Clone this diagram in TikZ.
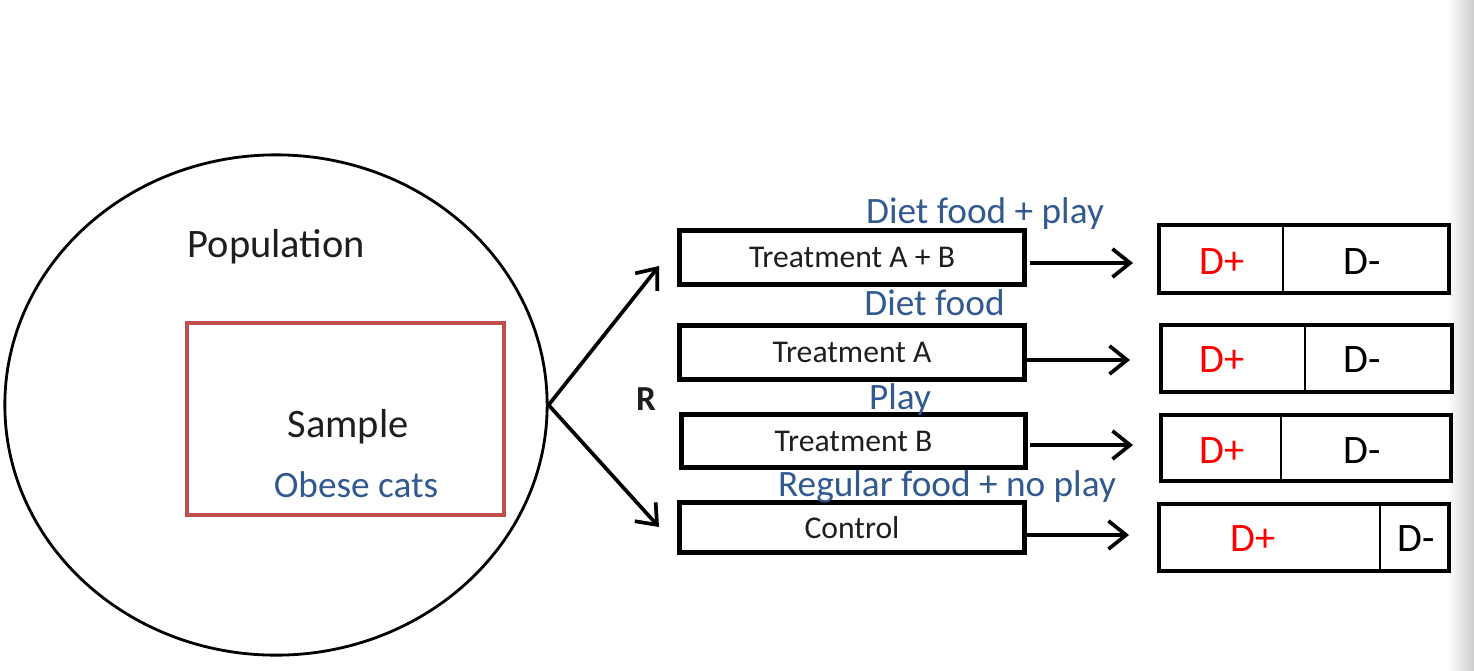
\documentclass[tikz,border=0pt]{standalone}
\usepackage{fontspec}
\setmainfont{Carlito}
\usetikzlibrary{shapes.geometric,arrows.meta}
\definecolor{lblblue}{RGB}{50,90,145}
\definecolor{samplered}{RGB}{192,80,77}
\definecolor{dred}{RGB}{255,0,0}
\definecolor{txtdark}{RGB}{30,30,30}
\tikzset{
  tbox/.style={draw, line width=1.35pt, minimum width=3.45cm, text=txtdark,
               font=\fontsize{9}{10}\selectfont, inner sep=0pt},
  rbox/.style={draw, line width=1.1pt, minimum width=2.9cm, inner sep=0pt},
  divider/.style={line width=0.6pt},
  dplus/.style={text=dred, font=\fontsize{11.5}{13}\selectfont, inner sep=0pt},
  dminus/.style={text=black, font=\fontsize{11.5}{13}\selectfont, inner sep=0pt},
  bluelbl/.style={text=lblblue, font=\fontsize{10.6}{12}\selectfont, anchor=base, inner sep=0pt},
  blacklbl/.style={text=txtdark, font=\fontsize{11.5}{13}\selectfont, anchor=base, inner sep=0pt},
  arr/.style={line width=1.05pt, -{Straight Barb[length=5pt,width=8pt,line width=1.05pt]}},
}
\begin{document}
\begin{tikzpicture}[x=0.01cm,y=-0.01cm]
\useasboundingbox (0,0) rectangle (1474,670);
\shade[left color=white, right color=black!20] (1448,0) rectangle (1474,670);

% population and sample
\node[ellipse, draw, line width=0.8pt, minimum width=5.42cm, minimum height=5.0cm] (pop) at (276,405) {};
\node[draw=samplered, line width=1.2pt, minimum width=3.17cm, minimum height=1.92cm, inner sep=0pt] (samp) at (345.5,419) {};
\node[blacklbl, anchor=base west] (poplbl) at (187,257) {Population};
\node[blacklbl] (samplbl) at (348,437) {Sample};
\node[bluelbl] (obese) at (356,497) {Obese cats};

% R
\node[font=\bfseries\fontsize{10}{12}\selectfont, text=txtdark, inner sep=0pt] (R) at (646,399) {R};

% treatment boxes
\node[tbox, minimum height=0.54cm] (tab) at (852,257.5) {Treatment A + B};
\node[tbox, minimum height=0.54cm] (ta) at (852,352.5) {Treatment A};
\node[tbox, minimum height=0.53cm, minimum width=3.44cm] (tb) at (853.5,441) {Treatment B};
\node[tbox, minimum height=0.50cm] (ctl) at (852,527.5) {Control};

% blue labels
\node[bluelbl] (l1) at (985,223) {Diet food + play};
\node[bluelbl] (l2) at (934.5,315) {Diet food};
\node[bluelbl] (l3) at (900,409) {Play};
\node[bluelbl] (l4) at (947,496) {Regular food + no play};

% diagonal arrows
\coordinate (tipup) at (659,266);
\coordinate (tipdn) at (659,527);
\draw[arr] (pop.east) -- (tipup);
\draw[arr] (pop.east) -- (tipdn);

% result boxes
\node[rbox, minimum height=0.68cm] (r1) at (1304,259) {};
\node[rbox, minimum height=0.67cm, minimum width=2.91cm] (r2) at (1306.5,358.5) {};
\node[rbox, minimum height=0.66cm] (r3) at (1306,448) {};
\node[rbox, minimum height=0.67cm] (r4) at (1304,537.5) {};

\coordinate (d1) at (1283,0);
\coordinate (d2) at (1305,0);
\coordinate (d3) at (1281,0);
\coordinate (d4) at (1380,0);
\draw[divider] (r1.north -| d1) -- (r1.south -| d1);
\draw[divider] (r2.north -| d2) -- (r2.south -| d2);
\draw[divider] (r3.north -| d3) -- (r3.south -| d3);
\draw[divider] (r4.north -| d4) -- (r4.south -| d4);

\node[dplus] (p1) at (1222,262) {D+};
\node[dminus] (m1) at (1362,262) {D-};
\node[dplus] (p2) at (1222,360) {D+};
\node[dminus] (m2) at (1362,360) {D-};
\node[dplus] (p3) at (1222,451) {D+};
\node[dminus] (m3) at (1362,451) {D-};
\node[dplus] (p4) at (1253,539) {D+};
\node[dminus] (m4) at (1416,539) {D-};

% horizontal arrows
\coordinate (s1) at (1030,263);
\coordinate (e1) at (1133,263);
\coordinate (s2) at (1027,360);
\coordinate (e2) at (1130,360);
\coordinate (s3) at (1030,445);
\coordinate (e3) at (1133,445);
\coordinate (s4) at (1027,535);
\coordinate (e4) at (1129,535);
\draw[arr] (s1) -- (e1);
\draw[arr] (s2) -- (e2);
\draw[arr] (s3) -- (e3);
\draw[arr] (s4) -- (e4);
\end{tikzpicture}
\end{document}
